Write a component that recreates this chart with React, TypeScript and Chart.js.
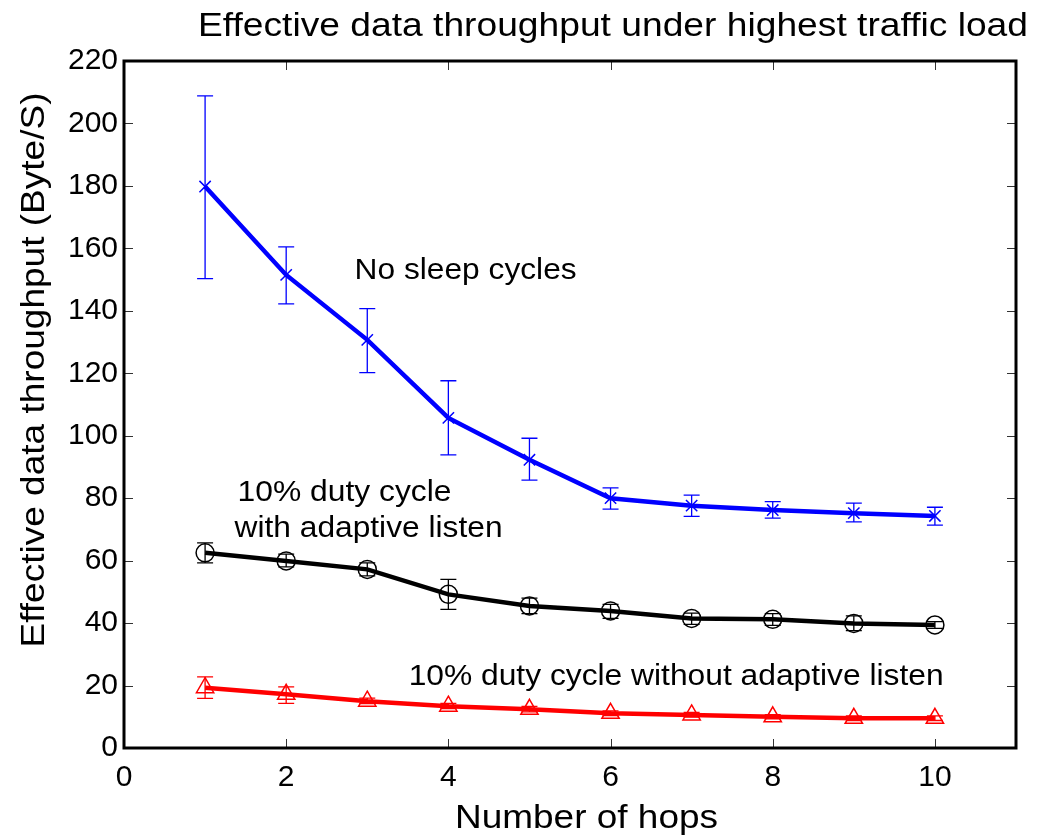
import React, { useEffect, useRef } from "react";
import { Chart, registerables } from "chart.js";

Chart.register(...registerables);

const hops = [1, 2, 3, 4, 5, 6, 7, 8, 9, 10];

const noSleep = [179.8, 151.5, 130.7, 105.7, 92.3, 80.0, 77.6, 76.2, 75.2, 74.3];
const noSleepLow = [150.3, 142.2, 120.2, 93.9, 85.8, 76.5, 74.2, 73.6, 72.4, 71.4];
const noSleepHigh = [208.8, 160.5, 140.7, 117.6, 99.2, 83.3, 81.0, 78.9, 78.4, 77.1];

const adaptive = [62.5, 59.9, 57.2, 49.2, 45.5, 43.9, 41.5, 41.2, 39.9, 39.4];
const adaptiveLow = [59.3, 58.0, 55.1, 44.4, 43.0, 41.5, 39.6, 39.3, 37.6, 38.3];
const adaptiveHigh = [65.7, 62.1, 59.3, 54.0, 48.0, 46.0, 43.2, 43.0, 42.3, 40.5];

const noAdaptive = [19.3, 17.2, 15.0, 13.4, 12.4, 11.1, 10.6, 10.0, 9.5, 9.5];
const noAdaptiveLow = [15.9, 14.3, 14.2, 12.6, 11.6, 10.4, 9.9, 9.3, 8.8, 8.8];
const noAdaptiveHigh = [22.8, 19.6, 16.0, 14.3, 13.3, 11.9, 11.4, 10.7, 10.3, 10.3];

const xTicks = [0, 2, 4, 6, 8, 10];
const yTicks = [0, 20, 40, 60, 80, 100, 120, 140, 160, 180, 200, 220];

const titleText = "Effective data throughput under highest traffic load";
const xLabelText = "Number of hops";
const yLabelText = "Effective data throughput (Byte/S)";

const annotationTexts = [
  "No sleep cycles",
  "10% duty cycle",
  "with adaptive listen",
  "10% duty cycle without adaptive listen",
];
const annotationX = [2.844, 1.40, 1.363, 3.51];
const annotationY = [150.2, 79.2, 67.6, 20.2];

const FONT = '"Liberation Sans", Arial, Helvetica, sans-serif';

function fitText(ctx: CanvasRenderingContext2D, text: string, x: number, y: number, width: number, align: CanvasTextAlign, rotate = false) {
  const w = ctx.measureText(text).width;
  const sx = width / w;
  ctx.save();
  ctx.translate(x, y);
  if (rotate) ctx.rotate(-Math.PI / 2);
  ctx.scale(sx, 1);
  ctx.textAlign = align;
  ctx.textBaseline = "alphabetic";
  ctx.fillText(text, 0, 0);
  ctx.restore();
}

const errorBars = [
  { low: noSleepLow, high: noSleepHigh, color: "#0000ff", width: 1.3 },
  { low: adaptiveLow, high: adaptiveHigh, color: "#000000", width: 1.3 },
  { low: noAdaptiveLow, high: noAdaptiveHigh, color: "#ff0000", width: 1.3 },
];

const decorPlugin = {
  id: "decor",
  beforeDatasetsDraw(chart: any) {
    const ctx = chart.ctx as CanvasRenderingContext2D;
    const xs = chart.scales.x;
    const ys = chart.scales.y;
    ctx.save();
    errorBars.forEach((eb) => {
      ctx.strokeStyle = eb.color;
      ctx.lineWidth = eb.width;
      hops.forEach((h, i) => {
        const px = xs.getPixelForValue(h);
        const pl = ys.getPixelForValue(eb.low[i]);
        const ph = ys.getPixelForValue(eb.high[i]);
        ctx.beginPath();
        ctx.moveTo(px, pl);
        ctx.lineTo(px, ph);
        ctx.moveTo(px - 8, pl);
        ctx.lineTo(px + 8, pl);
        ctx.moveTo(px - 8, ph);
        ctx.lineTo(px + 8, ph);
        ctx.stroke();
      });
    });
    ctx.restore();
  },
  afterDatasetsDraw(chart: any) {
    const ctx = chart.ctx as CanvasRenderingContext2D;
    const a = chart.chartArea;
    const xs = chart.scales.x;
    const ys = chart.scales.y;
    ctx.save();
    ctx.strokeStyle = "#333333";
    ctx.lineWidth = 1;
    ctx.beginPath();
    xTicks.forEach((v) => {
      const px = Math.round(xs.getPixelForValue(v)) + 0.5;
      ctx.moveTo(px, a.bottom);
      ctx.lineTo(px, a.bottom - 9);
      ctx.moveTo(px, a.top);
      ctx.lineTo(px, a.top + 9);
    });
    yTicks.forEach((v) => {
      const py = Math.round(ys.getPixelForValue(v)) + 0.5;
      ctx.moveTo(a.left, py);
      ctx.lineTo(a.left + 9, py);
      ctx.moveTo(a.right, py);
      ctx.lineTo(a.right - 9, py);
    });
    ctx.stroke();
    ctx.strokeStyle = "#000000";
    ctx.lineWidth = 3;
    ctx.strokeRect(a.left, a.top, a.right - a.left, a.bottom - a.top);
    ctx.restore();
  },
  afterDraw(chart: any) {
    const ctx = chart.ctx as CanvasRenderingContext2D;
    const xs = chart.scales.x;
    const ys = chart.scales.y;
    ctx.save();
    ctx.fillStyle = "#000000";
    ctx.font = `33px ${FONT}`;
    fitText(ctx, titleText, 613, 36, 830, "center");
    fitText(ctx, xLabelText, 586.5, 828, 263, "center");
    fitText(ctx, yLabelText, 43.5, 370, 555, "center", true);
    ctx.font = `29.5px ${FONT}`;
    const widths = [222, 214, 268, 535];
    annotationTexts.forEach((t, i) => {
      fitText(ctx, t, xs.getPixelForValue(annotationX[i]), ys.getPixelForValue(annotationY[i]), widths[i], "left");
    });
    ctx.restore();
  },
};

export default function App() {
  const ref = useRef<HTMLCanvasElement | null>(null);
  useEffect(() => {
    if (!ref.current) return;
    const toPts = (vals: number[]) => hops.map((h, i) => ({ x: h, y: vals[i] }));
    const chart = new Chart(ref.current, {
      type: "line",
      data: {
        datasets: [
          {
            label: "No sleep cycles",
            data: toPts(noSleep),
            borderColor: "#0000ff",
            borderWidth: 4.5,
            pointStyle: "crossRot",
            pointRadius: 8,
            pointBorderColor: "#0000ff",
            pointBorderWidth: 1.5,
            pointBackgroundColor: "rgba(0,0,0,0)",
            tension: 0,
          },
          {
            label: "10% duty cycle with adaptive listen",
            data: toPts(adaptive),
            borderColor: "#000000",
            borderWidth: 4.5,
            pointStyle: "circle",
            pointRadius: 9,
            pointBorderColor: "#000000",
            pointBorderWidth: 1.5,
            pointBackgroundColor: "rgba(0,0,0,0)",
            tension: 0,
          },
          {
            label: "10% duty cycle without adaptive listen",
            data: toPts(noAdaptive),
            borderColor: "#ff0000",
            borderWidth: 4.5,
            pointStyle: "triangle",
            pointRadius: 10,
            pointBorderColor: "#ff0000",
            pointBorderWidth: 1.5,
            pointBackgroundColor: "rgba(0,0,0,0)",
            tension: 0,
          },
        ],
      },
      options: {
        responsive: false,
        animation: false,
        devicePixelRatio: 1,
        layout: { padding: { top: 61, right: 31, left: 0, bottom: 0 } },
        plugins: {
          legend: { display: false },
          title: { display: false },
          tooltip: { enabled: false },
        },
        scales: {
          x: {
            type: "linear",
            min: 0,
            max: 11,
            grid: { display: false, drawTicks: false },
            border: { display: false },
            ticks: {
              autoSkip: false,
              color: "#000000",
              font: { family: FONT, size: 30 },
              padding: 12,
              maxRotation: 0,
            },
            afterBuildTicks: (s: any) => {
              s.ticks = xTicks.map((v) => ({ value: v }));
            },
            afterFit: (s: any) => {
              s.height = 91;
            },
          },
          y: {
            type: "linear",
            min: 0,
            max: 220,
            grid: { display: false, drawTicks: false },
            border: { display: false },
            ticks: {
              autoSkip: false,
              color: "#000000",
              font: { family: FONT, size: 30 },
              padding: 6,
            },
            afterBuildTicks: (s: any) => {
              s.ticks = yTicks.map((v) => ({ value: v }));
            },
            afterFit: (s: any) => {
              s.width = 124;
            },
          },
        },
      },
      plugins: [decorPlugin],
    } as any);
    return () => chart.destroy();
  }, []);
  return (
    <div style={{ position: "fixed", left: 0, top: 0, width: 1047, height: 839, background: "#ffffff" }}>
      <canvas ref={ref} width={1047} height={839} />
    </div>
  );
}
